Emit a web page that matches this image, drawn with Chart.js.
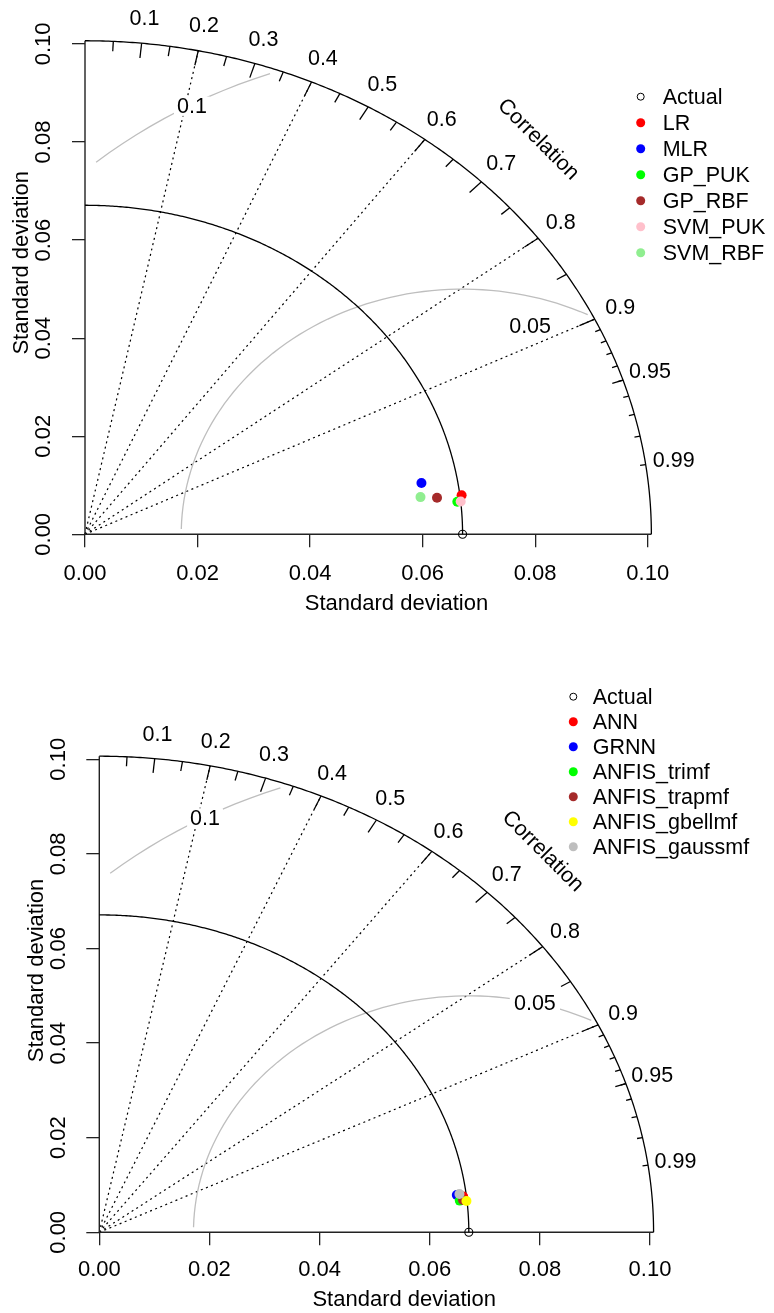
<!DOCTYPE html>
<html><head><meta charset="utf-8">
<script src="https://cdn.jsdelivr.net/npm/chart.js@4/dist/chart.umd.min.js"></script>
<style>
html,body{margin:0;padding:0;background:#fff;width:774px;height:1313px;overflow:hidden;position:relative}
canvas{position:absolute;left:0}
#c1{top:-30px}
#c2{top:650px}
</style></head><body>
<canvas id="c1" width="774" height="670" style="width:774px;height:670px"></canvas>
<canvas id="c2" width="774" height="663" style="width:774px;height:663px"></canvas>
<script>
// ---------------- data ----------------
const actualSD = 0.0671;

const topModels = ['LR', 'MLR', 'GP_PUK', 'GP_RBF', 'SVM_PUK', 'SVM_RBF'];
const topSD     = [0.0674, 0.0607, 0.0665, 0.0630, 0.0671, 0.0601];
const topCor    = [0.993, 0.985, 0.995, 0.993, 0.995, 0.992];
const topColors = ['#FF0000', '#0000FF', '#00FF00', '#A52A2A', '#FFC0CB', '#90EE90'];

const botModels = ['ANN', 'GRNN', 'ANFIS_trimf', 'ANFIS_trapmf', 'ANFIS_gbellmf', 'ANFIS_gaussmf'];
const botSD     = [0.0665, 0.0654, 0.0658, 0.0664, 0.0670, 0.0659];
const botCor    = [0.9935, 0.9927, 0.9948, 0.9947, 0.9951, 0.9924];
const botColors = ['#FF0000', '#0000FF', '#00FF00', '#A52A2A', '#FFFF00', '#BEBEBE'];

const sdTicks    = [0, 0.02, 0.04, 0.06, 0.08, 0.10];
const corLabels  = [0.1, 0.2, 0.3, 0.4, 0.5, 0.6, 0.7, 0.8, 0.9, 0.95, 0.99];
const corLines   = [0.2, 0.4, 0.6, 0.8, 0.9];
const rmsLevels  = [0.05, 0.1];
// --------------------------------------

const FONT = "'Liberation Sans', Arial, sans-serif";
Chart.defaults.font.family = FONT;

function toXY(sd, r) { return { x: sd * r, y: sd * Math.sqrt(1 - r * r) }; }

const taylorPlugin = {
  id: 'taylor',
  beforeDatasetsDraw(chart, args, o) {
    const ctx = chart.ctx, xs = chart.scales.x, ys = chart.scales.y;
    const px = v => xs.getPixelForValue(v), py = v => ys.getPixelForValue(v);
    const maxsd = o.maxsd, sdr = o.sdr;
    const polar = (r, c) => [px(r * c), py(r * Math.sqrt(Math.max(0, 1 - c * c)))];
    const seg = (a, b, c, d) => { ctx.beginPath(); ctx.moveTo(a, b); ctx.lineTo(c, d); ctx.stroke(); };
    ctx.save();
    // dotted correlation rays
    ctx.strokeStyle = '#000'; ctx.lineWidth = 1.2; ctx.setLineDash([2, 3.5]);
    corLines.forEach(c => { const [ex, ey] = polar(maxsd, c); seg(px(0), py(0), ex, ey); });
    ctx.setLineDash([]);
    // axis segments
    ctx.strokeStyle = '#222'; ctx.lineWidth = 1.4;
    ctx.beginPath(); ctx.moveTo(px(0), py(maxsd)); ctx.lineTo(px(0), py(0)); ctx.lineTo(px(maxsd), py(0)); ctx.stroke();
    // centred RMS arcs
    ctx.strokeStyle = '#BEBEBE'; ctx.lineWidth = 1.3;
    const lbls = [];
    rmsLevels.forEach((g, k) => {
      const th = []; for (let i = 0; i * 0.03 <= Math.PI; i++) th.push(i * 0.03);
      const cx = th.map(t => Math.cos(t) * g + sdr), cy = th.map(t => Math.sin(t) * g);
      let end = cx.findIndex(v => v < 0); end = end < 0 ? cx.length - 1 : end - 1;
      let start = -1; cx.forEach((v, i) => { if (v * v + cy[i] * cy[i] > maxsd * maxsd) start = i; }); start += 1;
      ctx.beginPath();
      for (let i = start; i <= end; i++) { const X = px(cx[i]), Y = py(cy[i]); if (i === start) ctx.moveTo(X, Y); else ctx.lineTo(X, Y); }
      ctx.stroke();
      const [lx, ly] = o.rmsLabelPos[k];
      lbls.push([g, px(lx), py(ly)]);
    });
    ctx.font = o.fs + 'px ' + FONT; ctx.textAlign = 'center'; ctx.textBaseline = 'middle';
    lbls.forEach(([g, X, Y]) => {
      const t = String(g), w = ctx.measureText(t).width;
      ctx.fillStyle = '#fff'; ctx.fillRect(X - w * 0.6, Y - o.fs * 0.45, w * 1.2, o.fs * 0.9);
      ctx.fillStyle = '#000'; ctx.fillText(t, X, Y + 1);
    });
    // outer arc and reference arc
    ctx.strokeStyle = '#000'; ctx.lineWidth = 1.3;
    [maxsd, sdr].forEach(r => {
      ctx.beginPath();
      const N = 300;
      for (let i = 0; i <= N; i++) { const t = i / N * Math.PI / 2; const X = px(r * Math.cos(t)), Y = py(r * Math.sin(t)); if (i === 0) ctx.moveTo(X, Y); else ctx.lineTo(X, Y); }
      ctx.stroke();
    });
    // ticks on the correlation arc
    const tick = (c, f) => { const [a, b] = polar(maxsd, c), [d, e] = polar(maxsd * f, c); seg(a, b, d, e); };
    for (let i = 1; i <= 9; i++) tick(i / 10, 0.97);
    for (let i = 0; i < 10; i++) tick(0.05 + i * 0.1, 0.98);
    for (let i = 1; i <= 9; i++) tick(0.9 + i / 100, 0.99);
    // correlation labels
    ctx.fillStyle = '#000';
    corLabels.forEach(c => { const [X, Y] = polar(maxsd * 1.05, c); ctx.fillText(String(c), X, Y); });
    ctx.save();
    ctx.translate(px(0.8 * maxsd), py(0.8 * maxsd)); ctx.rotate(Math.PI / 4);
    ctx.fillText('Correlation', 0, 0);
    ctx.restore();
    ctx.restore();
  },
  afterDraw(chart, args, o) {
    const ctx = chart.ctx;
    ctx.save();
    ctx.font = o.legendFs + 'px ' + FONT; ctx.textAlign = 'left'; ctx.textBaseline = 'middle';
    chart.data.datasets.forEach((ds, i) => {
      const y = o.legendY + i * o.legendStep;
      ctx.beginPath();
      if (ds.hollow) { ctx.arc(o.legendX, y, 3.5, 0, 2 * Math.PI); ctx.strokeStyle = '#000'; ctx.lineWidth = 1; ctx.stroke(); }
      else { ctx.arc(o.legendX, y, 4.5, 0, 2 * Math.PI); ctx.fillStyle = ds.backgroundColor; ctx.fill(); }
      ctx.fillStyle = '#000'; ctx.fillText(ds.label, o.textX, y + 1);
    });
    ctx.restore();
  }
};

function makeChart(id, models, sds, cors, colors, L) {
  const maxsd = 1.5 * actualSD;
  const lim = maxsd * 1.1;
  const datasets = [{
    label: 'Actual', hollow: true, data: [{ x: actualSD, y: 0 }],
    backgroundColor: 'rgba(0,0,0,0)', borderColor: '#000', borderWidth: 1.1,
    pointRadius: 4, order: 10, clip: false
  }];
  models.forEach((m, i) => datasets.push({
    label: m, data: [toXY(sds[i], cors[i])],
    backgroundColor: colors[i], borderColor: colors[i], borderWidth: 0,
    pointRadius: 5, order: -i, clip: false
  }));
  const tickFont = { family: FONT, size: 22 };
  const axisCommon = () => ({
    type: 'linear', min: 0, max: lim,
    afterBuildTicks: s => { s.ticks = sdTicks.map(v => ({ value: v })); },
    grid: { display: true, drawOnChartArea: false, drawTicks: true, tickLength: 13, color: '#222', lineWidth: 1.3 },
    border: { display: false }
  });
  return new Chart(document.getElementById(id), {
    type: 'scatter',
    data: { datasets },
    plugins: [taylorPlugin],
    options: {
      responsive: false, animation: false, devicePixelRatio: 1, events: [],
      layout: { padding: { left: 0, top: L.padTop, right: L.padRight, bottom: 0 } },
      scales: {
        x: Object.assign(axisCommon(), {
          position: 'bottom',
          ticks: { callback: v => v.toFixed(2), font: tickFont, color: '#000', padding: L.xPad, autoSkip: false, minRotation: 0, maxRotation: 0 },
          title: { display: true, text: 'Standard deviation', font: tickFont, color: '#000', padding: { top: 0, bottom: L.xTitlePad } },
          afterFit: s => { s.height = L.xAxisH; }
        }),
        y: Object.assign(axisCommon(), {
          position: 'left',
          ticks: { callback: v => v.toFixed(2), font: tickFont, color: '#000', padding: L.yPad, crossAlign: 'center', minRotation: 90, maxRotation: 90, autoSkip: false },
          title: { display: true, text: 'Standard deviation', font: tickFont, color: '#000', padding: { top: L.yTitlePad, bottom: 0 } },
          afterFit: s => { s.width = L.yAxisW; }
        })
      },
      plugins: {
        legend: { display: false }, tooltip: { enabled: false },
        taylor: {
          maxsd, sdr: actualSD, fs: 21.5, legendFs: 21.5,
          rmsLabelPos: L.rmsLabelPos,
          legendX: L.legendX, legendY: L.legendY, legendStep: L.legendStep, textX: L.textX
        }
      }
    }
  });
}

makeChart('c1', topModels, topSD, topCor, topColors, {
  padTop: 21.4, padRight: 66, yAxisW: 85, xAxisH: 105.7,
  xPad: 13.5, xTitlePad: 23, yPad: 6.5, yTitlePad: 8.8,
  rmsLabelPos: [[0.0791, 0.0425], [0.0190, 0.0873]],
  legendX: 640.7, legendY: 126.7, legendStep: 26, textX: 662.7
});
makeChart('c2', botModels, botSD, botCor, botColors, {
  padTop: 58.6, padRight: 65, yAxisW: 99.3, xAxisH: 80.7,
  xPad: 11.5, xTitlePad: 0, yPad: 6.4, yTitlePad: 23.8,
  rmsLabelPos: [[0.0791, 0.0485], [0.0192, 0.0876]],
  legendX: 573.3, legendY: 46.7, legendStep: 25, textX: 592.7
});
</script>
</body></html>
